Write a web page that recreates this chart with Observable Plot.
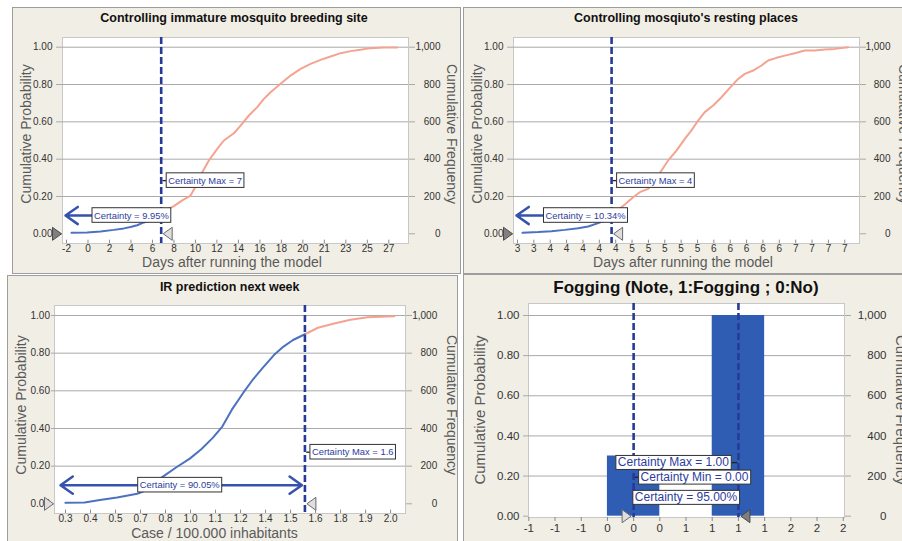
<!DOCTYPE html>
<html>
<head>
<meta charset="utf-8">
<script src="https://cdn.jsdelivr.net/npm/d3@7"></script>
<script src="https://cdn.jsdelivr.net/npm/@observablehq/plot@0.6"></script>
<style>
html,body{margin:0;padding:0;}
body{width:902px;height:541px;overflow:hidden;background:#ffffff;position:relative;font-family:"Liberation Sans",Arial,sans-serif;}
.panel{position:absolute;box-sizing:border-box;border:1px solid #9d9d9d;background:#f1eee5;overflow:hidden;}
.panel svg{position:absolute;left:0;top:0;}
.t{position:absolute;white-space:nowrap;line-height:1;}
</style>
</head>
<body>
<div class="panel" id="p1" style="left:12px;top:7px;width:449px;height:267px;"></div>
<div class="panel" id="p2" style="left:463px;top:7px;width:445px;height:267px;"></div>
<div class="panel" id="p3" style="left:7px;top:275px;width:451px;height:272px;"></div>
<div class="panel" id="p4" style="left:463px;top:274px;width:445px;height:272px;"></div>
<script>
// ================= DATA =================
// Panel 1: Controlling immature mosquito breeding site
const breedTitle = "Controlling immature mosquito breeding site";
const breedXTitle = "Days after running the model";
const breedDays = [-1.55,-0.14,1.06,2.26,3.16,3.76,4.36,4.96,5.56,6.16,6.52,7.06,7.66,8.41,9.16,9.7,10.21,10.81,11.56,12.16,13.06,13.66,14.41,15.16,15.76,16.36,17.26,18.16,19.06,19.96,20.86,21.76,22.66,23.56,24.45,25.35,26.55,27.75];
const breedProb = [0.005,0.007,0.0125,0.021,0.029,0.036,0.046,0.061,0.071,0.086,0.0995,0.129,0.148,0.179,0.205,0.262,0.33,0.393,0.455,0.50,0.539,0.58,0.634,0.679,0.723,0.759,0.804,0.848,0.884,0.911,0.932,0.95,0.968,0.979,0.986,0.995,0.998,0.998];
const breedTickLabels = ["-2","0","2","4","6","8","10","12","14","16","18","20","21","23","25","27"];
const breedTickRange = [-2, 27];
const breedCertMax = 6.52;
const breedMaxText = "Certainty Max = 7";
const breedCertText = "Certainty = 9.95%";

// Panel 2: Controlling mosquito's resting places
const restTitle = "Controlling mosqiuto's resting places";
const restXTitle = "Days after running the model";
const restDays = [3.261,3.453,3.615,3.778,3.941,4.064,4.186,4.267,4.35,4.43,4.512,4.613,4.695,4.797,4.878,4.96,5.041,5.143,5.245,5.326,5.408,5.489,5.591,5.693,5.795,5.897,5.978,6.08,6.182,6.263,6.365,6.467,6.589,6.711,6.833,6.956,7.078,7.241];
const restProb = [0.005,0.009,0.014,0.021,0.030,0.039,0.057,0.071,0.1034,0.129,0.157,0.196,0.223,0.241,0.286,0.339,0.393,0.446,0.509,0.554,0.607,0.652,0.688,0.732,0.782,0.830,0.857,0.875,0.902,0.929,0.943,0.955,0.968,0.982,0.982,0.988,0.991,1.0];
const restTickLabels = ["3","3","4","4","4","4","4","5","5","5","5","5","6","6","6","6","6","7","7","7","7"];
const restTickRange = [3.2, 7.2];
const restCertMax = 4.35;
const restMaxText = "Certainty Max = 4";
const restCertText = "Certainty = 10.34%";

// Panel 3: IR prediction next week
const irTitle = "IR prediction next week";
const irXTitle = "Case / 100.000 inhabitants";
const irCases = [0.30,0.40,0.48,0.57,0.675,0.74,0.80,0.88,0.95,1.01,1.07,1.12,1.17,1.23,1.28,1.33,1.39,1.44,1.49,1.552,1.62,1.70,1.79,1.88,2.02];
const irProb = [0.005,0.007,0.02,0.033,0.053,0.08,0.138,0.194,0.24,0.29,0.35,0.41,0.50,0.59,0.66,0.72,0.79,0.835,0.87,0.9005,0.935,0.956,0.977,0.991,0.996];
const irTickLabels = ["0.3","0.4","0.5","0.7","0.8","1.0","1.1","1.2","1.4","1.5","1.6","1.8","1.9","2.0"];
const irTickRange = [0.3, 2.0];
const irCertMax = 1.552;
const irMaxText = "Certainty Max = 1.6";
const irCertText = "Certainty = 90.05%";

// Panel 4: Fogging
const fogTitle = "Fogging (Note, 1:Fogging ; 0:No)";
const fogValues = [0, 1];
const fogCumProb = [0.30, 1.00];
const fogTickLabels = ["-1","-1","-1","0","0","0","1","1","1","1","2","2","2"];
const fogTickRange = [-1, 2];
const fogCertMin = 0, fogCertMax = 1;
const fogMaxText = "Certainty Max = 1.00";
const fogMinText = "Certainty Min = 0.00";
const fogCertText = "Certainty = 95.00%";

// shared axis labels
const yTitle = "Cumulative Probability";
const y2Title = "Cumulative Frequency";
const yLabelVals = [0, 0.2, 0.4, 0.6, 0.8, 1.0];
const yGridVals = [0.2, 0.4, 0.6, 0.8, 1.0];

// ================= STYLE =================
const BLUE="#4b71c0", PINK="#f4a391", DASH="#263b97", BOXTXT="#2d3d9e", ARROWC="#3553aa", GRIDC="#a9a9a9", BARC="#2f5db3";
const FONT = '"Liberation Sans", Arial, sans-serif';
const BOXFS = 9.4;
const freqFormat = d => d3.format(",")(Math.round(d * 1000));
const evenTicks = (r, n) => d3.range(n).map(i => r[0] + (r[1] - r[0]) * i / (n - 1));
const triRight = {draw(c){c.moveTo(0,0);c.lineTo(-9,-6.5);c.lineTo(-9,6.5);c.closePath();}};
const triLeft  = {draw(c){c.moveTo(0,0);c.lineTo(9,-6.5);c.lineTo(9,6.5);c.closePath();}};
const hseg = (a,b) => ({draw(c){c.moveTo(a,0);c.lineTo(b,0);}});
const DARKTRI = {fill:"#7f7f7f", stroke:"#4a4a4a", strokeWidth:1};
const LIGHTTRI = {fill:"#dedede", stroke:"#6a6a6a", strokeWidth:1};

function axes(c) {
  const lab = new Map(c.tickVals.map((v,i)=>[v, c.tickLabels[i]]));
  return [
    Plot.axisY(yLabelVals, {anchor:"left", tickFormat: d3.format(".2f"), tickSize: c.ly[0], tickPadding: c.ly[1], stroke: GRIDC, color:"#333", fontSize: c.fs, label: null}),
    Plot.axisY(yLabelVals, {anchor:"right", tickFormat: freqFormat, tickSize: 6, tickPadding: c.ry, textAnchor:"end", stroke: GRIDC, color:"#333", fontSize: c.fs, label: null}),
    Plot.axisX(c.tickVals, {anchor:"bottom", tickFormat: d => lab.get(d), tickSize: c.lx[0], tickPadding: c.lx[1], stroke:"#888", color:"#333", fontSize: c.fs, label: null})
  ];
}

function plotBase(c, marks) {
  return Plot.plot({
    width: c.w, height: c.h,
    marginLeft: c.m[0], marginRight: c.m[1], marginTop: c.m[2], marginBottom: c.m[3],
    x: {domain: c.xDomain}, y: {domain: c.yDomain},
    style: {background:"transparent", overflow:"visible", fontFamily: FONT, fontSize: c.fs + "px", color:"#333"},
    marks
  });
}

function curvePlot(c) {
  const pts = c.xs.map((x,i)=>({x, p:c.ps[i]}));
  const lo = pts.filter(d=>d.x<=c.certMax), hi = pts.filter(d=>d.x>=c.certMax);
  const y0 = c.yDomain[0];
  return plotBase(c, [
    Plot.frame({fill:"white", stroke:"#c8c8c8"}),
    Plot.gridY(yGridVals, {stroke: GRIDC, strokeOpacity: 1}),
    Plot.ruleX(c.tickVals, {y1: y0, y2: y0 + 0.018, stroke:"#8c8c8c"}),
    ...axes(c),
    Plot.line(hi, {x:"x", y:"p", stroke: PINK, strokeWidth: 2}),
    Plot.line(lo, {x:"x", y:"p", stroke: BLUE, strokeWidth: 2}),
    Plot.ruleX([c.certMax], {stroke: DASH, strokeWidth: 2.6, strokeDasharray: "7,3"}),
    ...c.arrows,
    Plot.dot([c.certMax], {x: d=>d, y: c.maxY, symbol: hseg(1.3, 5), stroke:"#222", strokeWidth: 1.3, fill:"none"}),
    Plot.text([c.maxText], {x: c.certMax, y: c.maxY, text: d=>d, dx: 7, textAnchor:"start", fill: BOXTXT, fontSize: BOXFS}),
    c.certLabel,
    Plot.dot([c.xDomain[0]], {x: d=>d, y: 0, symbol: triRight, dx: -1, ...c.leftTri}),
    Plot.dot([c.certMax], {x: d=>d, y: 0, symbol: triLeft, dx: 2, ...LIGHTTRI})
  ]);
}

function addBoxes(svg, padX, padY) {
  svg.querySelectorAll("g").forEach(g => {
    if (g.getAttribute("fill") !== BOXTXT) return;
    g.querySelectorAll("text").forEach(t => {
      const bb = t.getBBox();
      const r = document.createElementNS("http://www.w3.org/2000/svg", "rect");
      r.setAttribute("x", bb.x - padX);
      r.setAttribute("y", bb.y - padY);
      r.setAttribute("width", bb.width + 2 * padX);
      r.setAttribute("height", bb.height + 2 * padY);
      if (t.getAttribute("transform")) r.setAttribute("transform", t.getAttribute("transform"));
      r.setAttribute("fill", "white");
      r.setAttribute("stroke", "#333");
      r.setAttribute("stroke-width", "1");
      t.parentNode.insertBefore(r, t);
    });
  });
}

function addText(id, s, x, y, css, rot) {
  const d = document.createElement("div");
  d.className = "t";
  d.textContent = s;
  d.style.cssText = `left:${x}px;top:${y}px;transform:translate(-50%,-50%)${rot ? ` rotate(${rot}deg)` : ""};` + css;
  document.getElementById(id).appendChild(d);
}

function mount(id, svg, padX, padY) {
  document.getElementById(id).appendChild(svg);
  addBoxes(svg, padX, padY);
}

const TITLE = "font-weight:bold;font-size:12.5px;color:#111;";
const AXT = "font-size:14px;color:#5a5a5a;";

// ---------- Panel 1 ----------
{
  const c = {
    w: 447, h: 265, m: [49, 52, 29, 30], fs: 10,
    xDomain: [-2.36, 28.77], yDomain: [-0.052, 1.052],
    tickVals: evenTicks(breedTickRange, breedTickLabels.length), tickLabels: breedTickLabels,
    ly: [6, 4], ry: 26, lx: [0, 1.5],
    xs: breedDays, ps: breedProb, certMax: breedCertMax, maxText: breedMaxText, maxY: 0.285,
    leftTri: DARKTRI
  };
  c.arrows = [Plot.arrow([0], {x1: c.certMax, y1: 0.098, x2: c.xDomain[0], y2: 0.098, stroke: ARROWC, strokeWidth: 2.5, headLength: 9, headAngle: 70, insetEnd: 3})];
  c.certLabel = Plot.text([breedCertText], {frameAnchor:"left", y: 0.098, text: d=>d, dx: 31.5, textAnchor:"start", fill: BOXTXT, fontSize: BOXFS});
  mount("p1", curvePlot(c), 2, 1.8);
  addText("p1", breedTitle, 221, 9.5, TITLE);
  addText("p1", yTitle, 13, 126, AXT, -90);
  addText("p1", y2Title, 439, 126, AXT, 90);
  addText("p1", breedXTitle, 219, 253.5, AXT);
}

// ---------- Panel 2 ----------
{
  const c = {
    w: 443, h: 265, m: [49, 48, 29, 30], fs: 10,
    xDomain: [3.151, 7.38], yDomain: [-0.052, 1.052],
    tickVals: evenTicks(restTickRange, restTickLabels.length), tickLabels: restTickLabels,
    ly: [6, 4], ry: 25, lx: [0, 1.5],
    xs: restDays, ps: restProb, certMax: restCertMax, maxText: restMaxText, maxY: 0.285,
    leftTri: DARKTRI
  };
  c.arrows = [Plot.arrow([0], {x1: c.certMax, y1: 0.098, x2: c.xDomain[0], y2: 0.098, stroke: ARROWC, strokeWidth: 2.5, headLength: 9, headAngle: 70, insetEnd: 3})];
  c.certLabel = Plot.text([restCertText], {frameAnchor:"left", y: 0.098, text: d=>d, dx: 32, textAnchor:"start", fill: BOXTXT, fontSize: BOXFS});
  mount("p2", curvePlot(c), 2, 1.8);
  addText("p2", restTitle, 222, 9.5, TITLE);
  addText("p2", yTitle, 13, 126, AXT, -90);
  addText("p2", y2Title, 440, 126, AXT, 90);
  addText("p2", restXTitle, 219, 253.5, AXT);
}

// ---------- Panel 3 ----------
{
  const c = {
    w: 449, h: 265, m: [46, 52, 29, 28], fs: 10,
    xDomain: [0.2425, 2.078], yDomain: [-0.0515, 1.0531],
    tickVals: evenTicks(irTickRange, irTickLabels.length), tickLabels: irTickLabels,
    ly: [3, 1.5], ry: 25.7, lx: [0, 1.7],
    xs: irCases, ps: irProb, certMax: irCertMax, maxText: irMaxText, maxY: 0.274,
    leftTri: LIGHTTRI
  };
  const mid = (c.xDomain[0] + c.certMax) / 2;
  c.arrows = [
    Plot.arrow([0], {x1: mid, y1: 0.099, x2: c.xDomain[0], y2: 0.099, stroke: ARROWC, strokeWidth: 2.5, headLength: 9, headAngle: 70, insetEnd: 6}),
    Plot.arrow([0], {x1: mid, y1: 0.099, x2: c.certMax, y2: 0.099, stroke: ARROWC, strokeWidth: 2.5, headLength: 9, headAngle: 70, insetEnd: 3})
  ];
  c.certLabel = Plot.text([irCertText], {x: mid, y: 0.099, text: d=>d, textAnchor:"middle", fill: BOXTXT, fontSize: BOXFS});
  mount("p3", curvePlot(c), 2, 1.8);
  addText("p3", irTitle, 221.7, 10.7, TITLE);
  addText("p3", yTitle, 13, 128.5, AXT, -90);
  addText("p3", y2Title, 444, 128.5, AXT, 90);
  addText("p3", irXTitle, 206.5, 257, AXT);
}

// ---------- Panel 4 ----------
{
  const c = {
    w: 443, h: 266, m: [64, 63, 28, 24], fs: 11.5,
    xDomain: [-1.003, 2.012], yDomain: [-0.0065, 1.0598],
    tickVals: evenTicks(fogTickRange, fogTickLabels.length), tickLabels: fogTickLabels,
    ly: [5, 4], ry: 36, lx: [4, 2.6]
  };
  const bars = fogValues.map((v,i)=>({v, p: fogCumProb[i]}));
  const svg = plotBase(c, [
    Plot.frame({fill:"white", stroke:"#c8c8c8"}),
    Plot.gridY(yGridVals, {stroke: GRIDC, strokeOpacity: 1}),
    ...axes(c),
    Plot.rect(bars, {x1: d=>d.v-0.25, x2: d=>d.v+0.25, y1: 0, y2: "p", fill: BARC}),
    Plot.ruleX([fogCertMin, fogCertMax], {stroke: DASH, strokeWidth: 2.6, strokeDasharray: "7,3"}),
    Plot.dot([fogCertMax], {x: d=>d, y: 0.267, symbol: hseg(-7.5, -1.3), stroke:"#222", strokeWidth: 1.3, fill:"none"}),
    Plot.dot([fogCertMin], {x: d=>d, y: 0.194, symbol: hseg(1.3, 5), stroke:"#222", strokeWidth: 1.3, fill:"none"}),
    Plot.text([fogMaxText], {x: fogCertMax, y: 0.267, text: d=>d, dx: -9.5, textAnchor:"end", fill: BOXTXT, fontSize: 12}),
    Plot.text([fogMinText], {x: fogCertMin, y: 0.194, text: d=>d, dx: 7, textAnchor:"start", fill: BOXTXT, fontSize: 12}),
    Plot.text([fogCertText], {x: (fogCertMin + fogCertMax) / 2, y: 0.093, text: d=>d, textAnchor:"middle", fill: BOXTXT, fontSize: 12}),
    Plot.dot([fogCertMin], {x: d=>d, y: 0, symbol: triRight, dx: -2.5, ...LIGHTTRI}),
    Plot.dot([fogCertMax], {x: d=>d, y: 0, symbol: triLeft, dx: 2.5, ...DARKTRI})
  ]);
  mount("p4", svg, 2, 0);
  addText("p4", fogTitle, 222, 11.7, "font-weight:bold;font-size:17px;color:#111;");
  addText("p4", yTitle, 15, 135, "font-size:15px;color:#5a5a5a;", -90);
  addText("p4", y2Title, 437, 135, "font-size:15px;color:#5a5a5a;", 90);
}
</script>
</body>
</html>
